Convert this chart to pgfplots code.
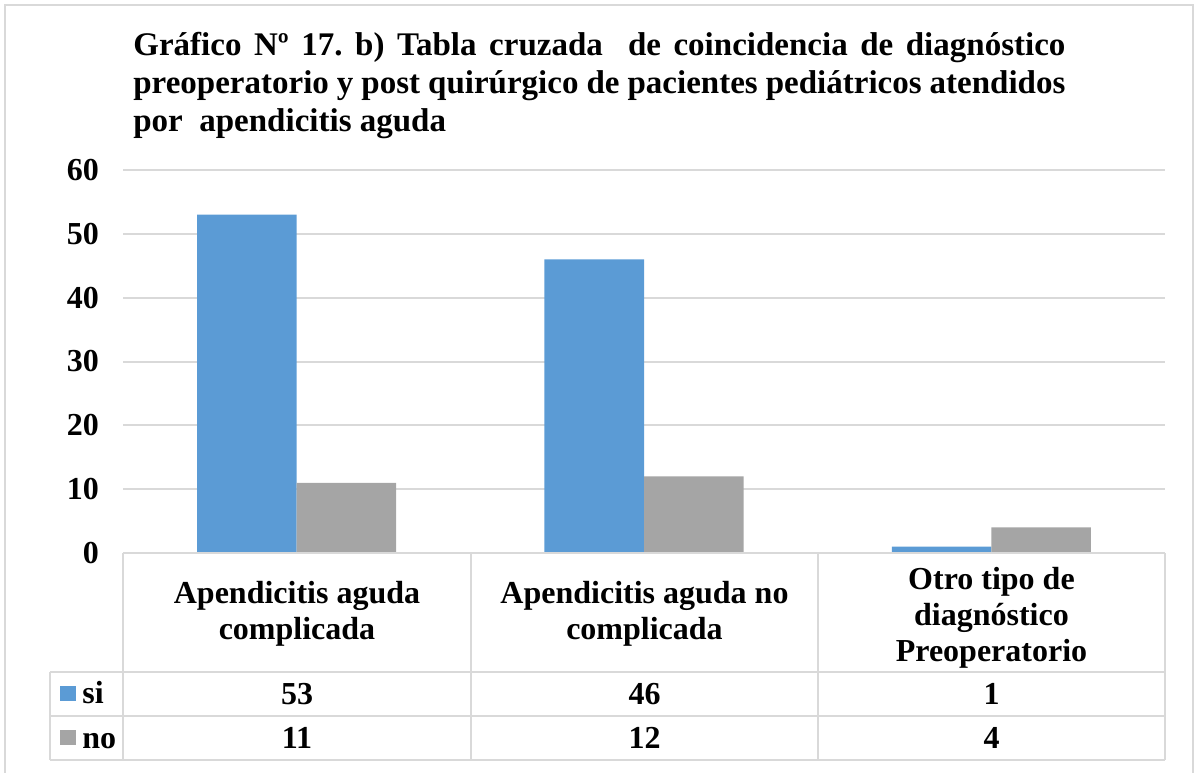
\documentclass[border=0pt]{standalone}
\usepackage{pgfplots}
\pgfplotsset{compat=1.18}
\usepackage{fontspec}
\setmainfont{Liberation Serif}
\frenchspacing
\definecolor{siblue}{HTML}{5B9BD5}
\definecolor{nogray}{HTML}{A5A5A5}
\definecolor{linegray}{HTML}{D9D9D9}
\newcommand{\tfont}{\fontsize{16}{18}\selectfont\bfseries}
\begin{document}
\begin{tikzpicture}
\begin{scope}[x=0.5pt,y=-0.5pt]
\useasboundingbox (0,0) rectangle (1195,772);
\draw[linegray, line width=1pt] (4.5,790) -- (4.5,4.5) -- (1192.5,4.5) -- (1192.5,790);

% title, three lines
\begin{scope}[every node/.style={anchor=base west, inner sep=0pt, font=\fontsize{16.5}{19}\selectfont\bfseries}]
\node at (133,55) {\makebox[466pt][s]{Gráfico Nº 17. b) Tabla cruzada \ de coincidencia de diagnóstico}};
\node at (133,93) {\makebox[466pt][s]{preoperatorio y post quirúrgico de pacientes pediátricos atendidos}};
\node at (133,131) {por \ apendicitis aguda};
\end{scope}
\end{scope}

\begin{axis}[
    at={(61.5pt,-276.5pt)}, anchor=south west,
    scale only axis,
    width=521pt, height=191.5pt,
    ybar=0pt, bar width=0.2865,
    xmin=-0.5, xmax=2.5,
    ymin=0, ymax=60,
    ytick={0,10,...,60},
    xtick=\empty,
    axis line style={draw=none},
    major tick length=0pt,
    ymajorgrids,
    grid style={linegray, line width=1pt},
    yticklabel style={font=\tfont, xshift=-8.5pt},
    /pgf/number format/assume math mode=true,
]
\addplot[fill=siblue, draw=none] coordinates {(0,53) (1,46) (2,1)};
\addplot[fill=nogray, draw=none] coordinates {(0,11) (1,12) (2,4)};
\end{axis}

\begin{scope}[x=0.5pt,y=-0.5pt]
% data table
\draw[linegray, line width=1pt]
    (123,553) -- (1165,553)
    (50,672) -- (1165,672)
    (50,716) -- (1165,716)
    (50,760) -- (1165,760)
    (50,672) -- (50,760)
    (123,553) -- (123,760)
    (471,553) -- (471,760)
    (818,553) -- (818,760)
    (1165,553) -- (1165,760);

\begin{scope}[every node/.style={align=center, inner sep=0pt, font=\tfont}]
\node at (297,614) {Apendicitis aguda\\complicada};
\node at (644.5,614) {Apendicitis aguda no\\complicada};
\node at (991.5,618) {Otro tipo de\\diagnóstico\\Preoperatorio};
\end{scope}

\fill[siblue] (60,686) rectangle (76,701);
\fill[nogray] (60,730) rectangle (76,745);
\begin{scope}[every node/.style={anchor=base, inner sep=0pt, font=\tfont}]
\node[anchor=base west] at (82,703) {si};
\node[anchor=base west] at (82,748) {no};
\node at (297,704) {53};
\node at (644.5,704) {46};
\node at (991.5,704) {1};
\node at (297,748) {11};
\node at (644.5,748) {12};
\node at (991.5,748) {4};
\end{scope}
\end{scope}
\end{tikzpicture}
\end{document}
